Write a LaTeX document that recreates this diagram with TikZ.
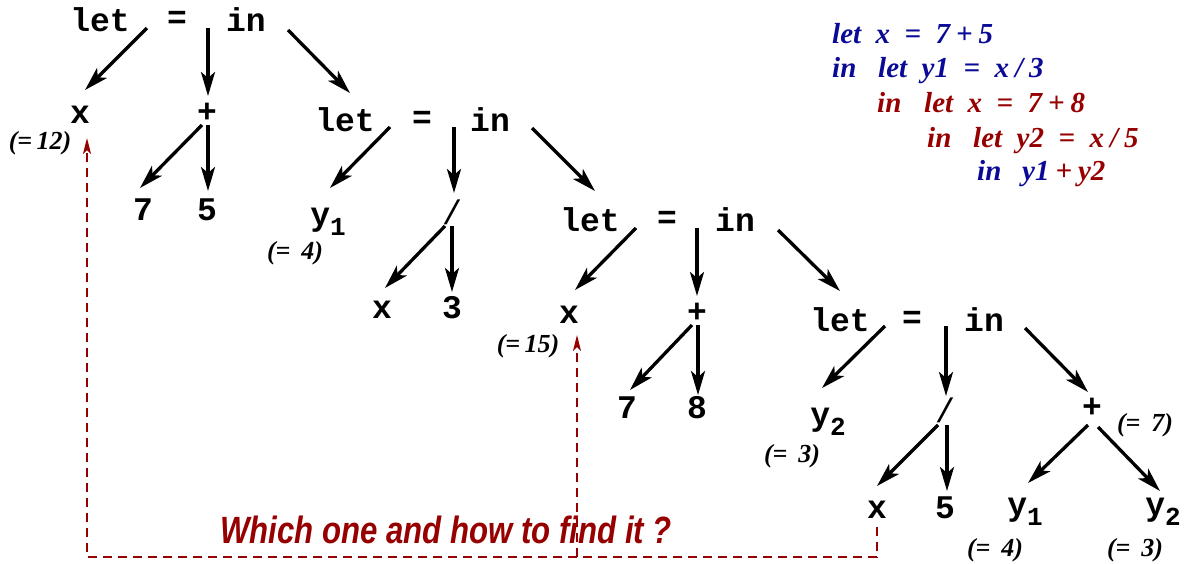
\documentclass[tikz,border=0pt]{standalone}
\usepackage{fontspec}
\usetikzlibrary{arrows.meta}
\newfontfamily\monof{Liberation Mono}
\newfontfamily\seriff{Liberation Serif}
\newfontfamily\sansf{Liberation Sans}
\definecolor{codeblue}{RGB}{10,10,150}
\definecolor{codered}{RGB}{150,0,0}
\begin{document}
\begin{tikzpicture}[x=1pt,y=-1pt,
  tok/.style={inner sep=0pt,font=\fontsize{33}{35}\monof\bfseries},
  slash/.style={inner sep=0pt,font=\fontsize{34}{36}\monof},
  val/.style={inner sep=0pt,font=\fontsize{26}{28}\seriff\bfseries\itshape},
  code/.style={inner sep=0pt,anchor=base west,font=\fontsize{29}{32}\seriff\bfseries\itshape},
  arr/.style={line width=3.3pt,-{Stealth[length=24pt,width=14pt,inset=6pt]}},
  dashline/.style={draw=codered,line width=1.8pt,dash pattern=on 9pt off 6pt},
  darr/.style={dashline,-{Stealth[length=16pt,width=8pt,inset=4pt]}}]
\useasboundingbox (0,0) rectangle (1184,563);
\newcommand{\ysub}[1]{y\raisebox{-0.3em}{\fontsize{26}{28}\selectfont #1}}
\newcommand{\op}[1]{\hspace{6pt}#1\hspace{6pt}}
% tree 1
\node[tok] (let1) at (100,20) {let};
\node[tok] (eq1) at (177,20) {=};
\node[tok] (in1) at (246,20) {in};
\node[tok] (x1) at (80,115) {x};
\node[val] (v12) at (40,143) {(=\,12)};
\node[tok] (p1) at (207,113) {+};
\node[tok] (n7a) at (143,210) {7};
\node[tok] (n5a) at (207,210) {5};
\coordinate (s1a) at (147,28); \coordinate (t1a) at (85,90);
\coordinate (s1b) at (208,28); \coordinate (t1b) at (208,96);
\coordinate (s1c) at (288,30); \coordinate (t1c) at (350,93);
\coordinate (s1d) at (202,125); \coordinate (t1d) at (140,188);
\coordinate (s1e) at (208,125); \coordinate (t1e) at (208,191);
% tree 2
\node[tok] (let2) at (345,120) {let};
\node[tok] (eq2) at (422,120) {=};
\node[tok] (in2) at (490,120) {in};
\node[tok] (y1a) at (328,222) {\ysub{1}};
\node[val] (v4a) at (295,253) {(= \,4)};
\node[slash] (div1) at (452,212) {/};
\node[tok] (x2) at (382,310) {x};
\node[tok] (n3) at (452,308) {3};
\coordinate (s2a) at (390,127); \coordinate (t2a) at (330,188);
\coordinate (s2b) at (454,127); \coordinate (t2b) at (454,193);
\coordinate (s2c) at (532,128); \coordinate (t2c) at (595,191);
\coordinate (s2d) at (445,226); \coordinate (t2d) at (385,288);
\coordinate (s2e) at (452,226); \coordinate (t2e) at (452,292);
% tree 3
\node[tok] (let3) at (590,220) {let};
\node[tok] (eq3) at (667,220) {=};
\node[tok] (in3) at (735,220) {in};
\node[tok] (x3) at (569,315) {x};
\node[val] (v15) at (528,346) {(=\,15)};
\node[tok] (p3) at (697,313) {+};
\node[tok] (n7b) at (627,408) {7};
\node[tok] (n8) at (697,408) {8};
\coordinate (s3a) at (636,228); \coordinate (t3a) at (575,290);
\coordinate (s3b) at (697,228); \coordinate (t3b) at (697,296);
\coordinate (s3c) at (778,230); \coordinate (t3c) at (840,291);
\coordinate (s3d) at (692,325); \coordinate (t3d) at (630,390);
\coordinate (s3e) at (698,325); \coordinate (t3e) at (698,395);
% tree 4
\node[tok] (let4) at (840,320) {let};
\node[tok] (eq4) at (912,320) {=};
\node[tok] (in4) at (984,320) {in};
\node[tok] (y2a) at (828,422) {\ysub{2}};
\node[val] (v3a) at (792,456) {(= \,3)};
\node[slash] (div2) at (945,410) {/};
\node[tok] (x4) at (877,510) {x};
\node[tok] (n5b) at (945,508) {5};
\node[tok] (p4) at (1092,408) {+};
\node[val] (v7) at (1145,425) {(= \,7)};
\node[tok] (y1b) at (1025,512) {\ysub{1}};
\node[tok] (y2b) at (1163,512) {\ysub{2}};
\node[val] (v4b) at (995,550) {(= \,4)};
\node[val] (v3b) at (1135,550) {(= \,3)};
\coordinate (s4a) at (885,326); \coordinate (t4a) at (822,388);
\coordinate (s4b) at (946,326); \coordinate (t4b) at (946,396);
\coordinate (s4c) at (1025,328); \coordinate (t4c) at (1088,392);
\coordinate (s4d) at (938,425); \coordinate (t4d) at (877,486);
\coordinate (s4e) at (947,425); \coordinate (t4e) at (947,491);
\coordinate (s4f) at (1088,425); \coordinate (t4f) at (1028,483);
\coordinate (s4g) at (1098,427); \coordinate (t4g) at (1160,491);
\foreach \a in {1a,1b,1c,1d,1e,2a,2b,2c,2d,2e,3a,3b,3c,3d,3e,4a,4b,4c,4d,4e,4f,4g}
  \draw[arr] (s\a) -- (t\a);
% code
\node[code,text=codeblue] (c1) at (832,43) {let\ \ x\ \ =\ \ 7\op{+}5};
\node[code,text=codeblue] (c2a) at (832,77) {in};
\node[code,text=codeblue] (c2b) at (878,77) {let\ \ y1\ \ =\ \ x\op{/}3};
\node[code,text=codered] (c3a) at (877,112) {in};
\node[code,text=codered] (c3b) at (924,112) {let\ \ x\ \ =\ \ 7\op{+}8};
\node[code,text=codered] (c4a) at (927,147) {in};
\node[code,text=codered] (c4b) at (973,147) {let\ \ y2\ \ =\ \ x\op{/}5};
\node[code,text=codeblue] (c5a) at (977,180) {in};
\node[code] (c5b) at (1022,180) {\textcolor{codeblue}{y1}\textcolor{codered}{\op{+}y2}};
% dashed
\coordinate (d0) at (877,527);
\coordinate (d1) at (877,557);
\coordinate (d2) at (87,557);
\coordinate (d3) at (577,557);
\coordinate (e1) at (87,138);
\coordinate (e2) at (577,335);
\draw[darr] (d0) -- (d1) -- (d2) -- (e1);
\draw[darr] (d3) -- (e2);
\node[inner sep=0pt,text=codered,font=\fontsize{38}{40}\sansf\bfseries\itshape] (q) at (446,530) {\scalebox{0.82}[1]{Which one and how to find it ?}};
\end{tikzpicture}
\end{document}
